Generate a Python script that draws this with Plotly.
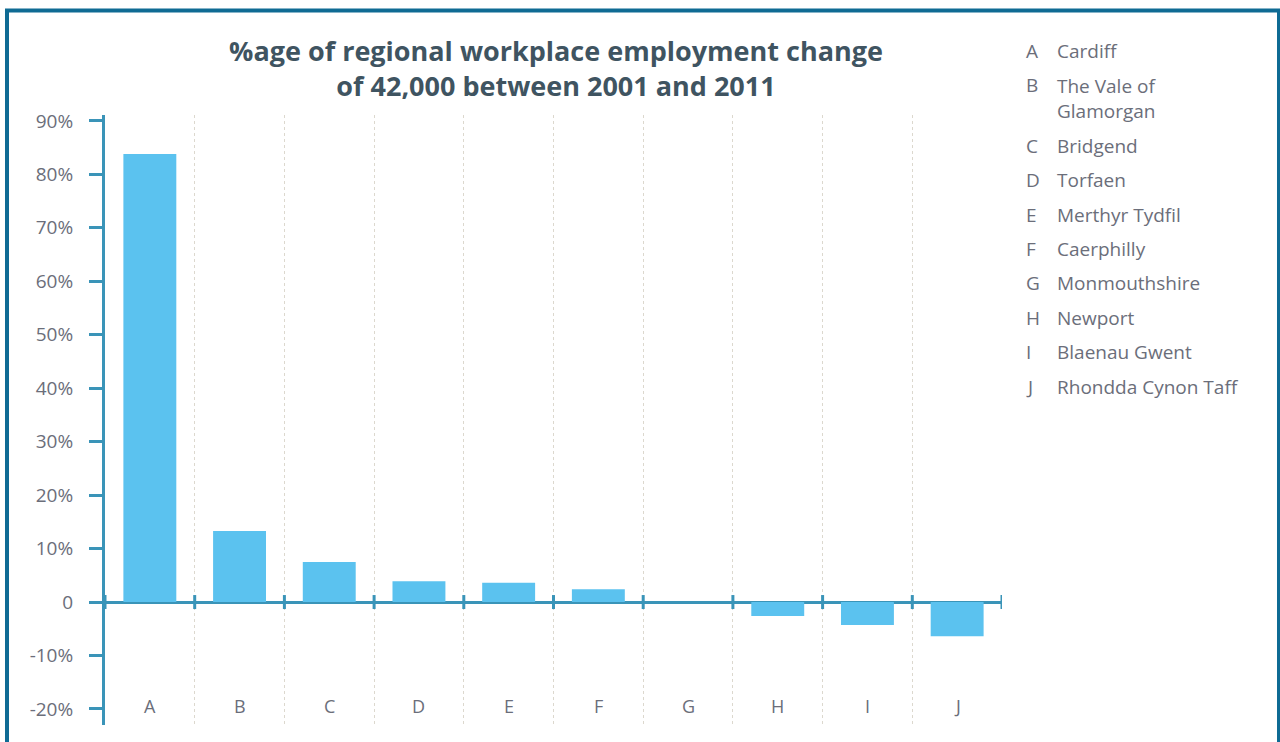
import plotly.graph_objects as go

# data
letters = ["A", "B", "C", "D", "E", "F", "G", "H", "I", "J"]
regions = ["Cardiff", "The Vale of<br>Glamorgan", "Bridgend", "Torfaen", "Merthyr Tydfil",
           "Caerphilly", "Monmouthshire", "Newport", "Blaenau Gwent", "Rhondda Cynon Taff"]
change_pct = [83.8, 13.3, 7.5, 3.9, 3.6, 2.4, 0.0, -2.6, -4.3, -6.4]
y_ticks = [-20, -10, 0, 10, 20, 30, 40, 50, 60, 70, 80, 90]
y_tick_text = ["-20%", "-10%", "0", "10%", "20%", "30%", "40%", "50%", "60%", "70%", "80%", "90%"]

AXIS = "#3a94b8"
TEXT = "#6b6e7a"
FONT = "Open Sans"

W, H = 1280, 742
L, R, T, B = 105, 278, 115, 17
plot_h = H - T - B
plot_w = W - L - R


def px_x(p):
    return (p - L) / plot_w


def px_y(p):
    return (H - B - p) / plot_h


fig = go.Figure()
fig.add_trace(go.Bar(
    x=letters, y=change_pct,
    marker=dict(color="#5bc2ef", line=dict(width=0)),
    width=0.59,
    showlegend=False,
    hovertemplate="%{x}: %{y:.1f}%<extra></extra>",
))

# tick marks crossing the zero line at category boundaries
shapes = []
for i in range(len(letters) + 1):
    shapes.append(dict(
        type="line", xref="x", yref="y", ysizemode="pixel", yanchor=0,
        x0=i - 0.5, x1=i - 0.5, y0=-7, y1=7,
        line=dict(color=AXIS, width=3), layer="above",
    ))

# outer frame
shapes.append(dict(
    type="rect", xref="paper", yref="paper",
    x0=px_x(7), x1=px_x(1279), y0=px_y(10.5), y1=px_y(780),
    line=dict(color="#0f6b94", width=4), fillcolor="rgba(0,0,0,0)", layer="above",
))

annotations = []
# category letters along the bottom
for letter in letters:
    annotations.append(dict(
        xref="x", yref="paper", x=letter, y=px_y(706),
        text=letter, showarrow=False, xanchor="center", yanchor="middle",
        font=dict(family=FONT, size=18, color=TEXT),
    ))

# key on the right
row_y = 51
for letter, name in zip(letters, regions):
    annotations.append(dict(
        xref="paper", yref="paper", x=px_x(1024), y=px_y(row_y),
        text=letter, showarrow=False, xanchor="left", yanchor="middle",
        font=dict(family=FONT, size=19, color=TEXT),
    ))
    n_lines = name.count("<br>") + 1
    annotations.append(dict(
        xref="paper", yref="paper", x=px_x(1055), y=px_y(row_y + 13 * (n_lines - 1)),
        text=name, showarrow=False, xanchor="left", yanchor="middle", align="left",
        font=dict(family=FONT, size=19, color=TEXT),
    ))
    row_y += 34.4 + 26 * (n_lines - 1)

fig.update_layout(
    width=W, height=H,
    margin=dict(l=L, r=R, t=T, b=B),
    paper_bgcolor="white",
    plot_bgcolor="white",
    title=dict(
        text="%age of regional workplace employment change<br>of 42,000 between 2001 and 2011",
        x=px_x(556), xanchor="center", xref="paper",
        y=1 - 61 / H, yanchor="middle",
        font=dict(family=FONT, size=27, color="#3f5461", weight="bold"),
    ),
    bargap=0.41,
    shapes=shapes,
    annotations=annotations,
    font=dict(family=FONT, color=TEXT),
)

fig.update_xaxes(
    type="category",
    range=[-0.5, len(letters) - 0.5],
    tickson="boundaries",
    showgrid=True, gridcolor="#dcd8ce", griddash="dot", gridwidth=1,
    ticks="", showline=False, zeroline=False,
    showticklabels=False,
    fixedrange=True,
)

fig.update_yaxes(
    range=[-23, 91.1],
    tickvals=y_ticks, ticktext=y_tick_text,
    showgrid=False,
    showline=True, linecolor=AXIS, linewidth=3,
    ticks="outside", ticklen=13, tickwidth=3, tickcolor=AXIS,
    zeroline=True, zerolinecolor=AXIS, zerolinewidth=3,
    tickfont=dict(family=FONT, size=19, color=TEXT),
    ticklabelstandoff=12,
    fixedrange=True,
)

fig.write_html("out.html", config={"displayModeBar": False},
               post_script="document.body.style.margin='0';")
